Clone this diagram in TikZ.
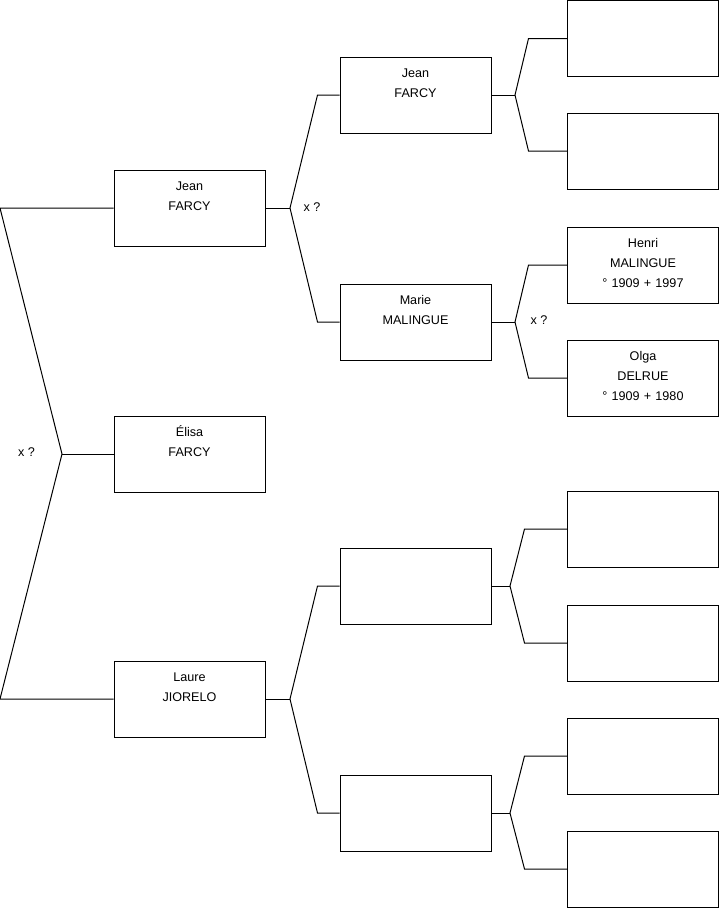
\documentclass[tikz,border=0pt]{standalone}
\usepackage{fontspec}
\setmainfont{Liberation Sans}
\usetikzlibrary{positioning}

\begin{document}
\begin{tikzpicture}[
    x=1pt, y=-1pt,
    person/.style={draw=black, rectangle, line width=1pt, minimum width=151pt, minimum height=76pt, inner sep=0pt},
    who/.style={anchor=base, yshift=-21.3pt, text width=150pt, align=center, font=\fontsize{12.6pt}{20pt}\selectfont},
    guess/.style={inner sep=0pt, font=\fontsize{12.6pt}{15pt}\selectfont},
    link/.style={line width=1pt, draw=black}
]
\useasboundingbox (0,0) rectangle (719,908);

% Generation 1: children
\node[person, label={[who]north:Jean\\FARCY}] (p1) at (189.5,208) {};
\node[person, label={[who]north:Élisa\\FARCY}] (p2) at (189.5,454) {};
\node[person, label={[who]north:Laure\\JIORELO}] (p3) at (189.5,699) {};

% Generation 2: parents
\node[person, label={[who]north:Jean\\FARCY}] (g1) at (415.5,95) {};
\node[person, label={[who]north:Marie\\MALINGUE}] (g2) at (415.5,322) {};
\node[person] (g3) at (415.5,586) {};
\node[person] (g4) at (415.5,813) {};

% Generation 3: grandparents
\node[person] (h1) at (643,38.5) {};
\node[person] (h2) at (643,151) {};
\node[person, label={[who]north:Henri\\MALINGUE\\° 1909 + 1997}] (h3) at (643,265) {};
\node[person, label={[who]north:Olga\\DELRUE\\° 1909 + 1980}] (h4) at (643,378) {};
\node[person] (h5) at (643,529) {};
\node[person] (h6) at (643,643) {};
\node[person] (h7) at (643,756) {};
\node[person] (h8) at (643,869) {};

% Forks
\coordinate (f0) at (62,454);
\coordinate (f1) at (290,208);
\coordinate (f2) at (515,95);
\coordinate (f3) at (515,322);
\coordinate (f4) at (290,699);
\coordinate (f5) at (510,586);
\coordinate (f6) at (510,813);

\draw[link] (p1.west) -- ++(-113.5,0) -- (f0) -- ([xshift=-113.5pt]p3.west) -- (p3.west);
\draw[link] (f0) -- (p2.west);

\draw[link] (p1.east) -- (f1);
\draw[link] (g1.west) -- ++(-22,0) -- (f1) -- ([xshift=-22pt]g2.west) -- (g2.west);

\draw[link] (g1.east) -- (f2);
\draw[link] (h1.west) -- ++(-38.5,0) -- (f2) -- ([xshift=-38.5pt]h2.west) -- (h2.west);

\draw[link] (g2.east) -- (f3);
\draw[link] (h3.west) -- ++(-38.5,0) -- (f3) -- ([xshift=-38.5pt]h4.west) -- (h4.west);

\draw[link] (p3.east) -- (f4);
\draw[link] (g3.west) -- ++(-22,0) -- (f4) -- ([xshift=-22pt]g4.west) -- (g4.west);

\draw[link] (g3.east) -- (f5);
\draw[link] (h5.west) -- ++(-42.5,0) -- (f5) -- ([xshift=-42.5pt]h6.west) -- (h6.west);

\draw[link] (g4.east) -- (f6);
\draw[link] (h7.west) -- ++(-42.5,0) -- (f6) -- ([xshift=-42.5pt]h8.west) -- (h8.west);

% Marriage marks
\node[guess] (m0) at (26.5,452) {x ?};
\node[guess] (m1) at (312,207) {x ?};
\node[guess] (m2) at (539,320) {x ?};

\end{tikzpicture}
\end{document}
